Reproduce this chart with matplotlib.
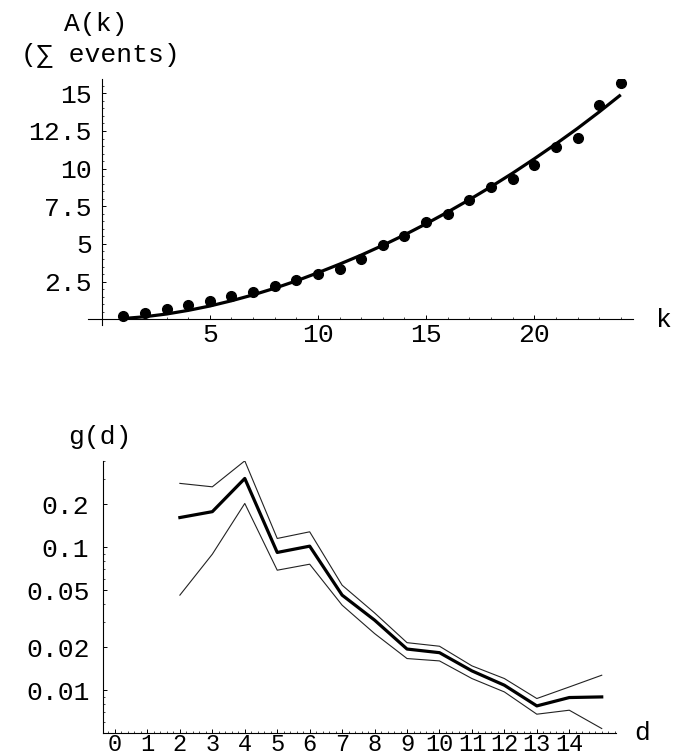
import matplotlib.pyplot as plt
from matplotlib.ticker import FixedLocator, MultipleLocator, NullFormatter

plt.rcParams['font.family'] = ['Liberation Mono', 'DejaVu Sans Mono']
plt.rcParams['font.size'] = 19

# top panel: summed events A(k)
k = list(range(1, 25))
a_k = [0.22, 0.44, 0.70, 0.95, 1.22, 1.53, 1.83, 2.20, 2.63, 2.98, 3.36, 4.01,
       4.93, 5.54, 6.44, 6.99, 7.92, 8.80, 9.34, 10.24, 11.46, 12.06, 14.22, 15.66]
a_fit = [0.05, 0.17, 0.35, 0.59, 0.88, 1.23, 1.62, 2.06, 2.55, 3.09, 3.66, 4.26,
         4.91, 5.60, 6.34, 7.12, 7.94, 8.80, 9.70, 10.65, 11.64, 12.67, 13.76, 14.90]

# bottom panel: g(d) with upper/lower band
d = list(range(2, 16))
g_mid = [0.161, 0.177, 0.302, 0.0918, 0.1016, 0.0462, 0.0309, 0.0194, 0.0183,
         0.01365, 0.01084, 0.00777, 0.00889, 0.00898]
g_hi = [0.279, 0.264, 0.401, 0.115, 0.128, 0.0542, 0.0347, 0.0215, 0.0203,
        0.0148, 0.01207, 0.00875, 0.01054, 0.01273]
g_lo = [0.0462, 0.0893, 0.202, 0.069, 0.076, 0.0393, 0.0249, 0.01665, 0.01603,
        0.01207, 0.00973, 0.0068, 0.00725, 0.0054]

top_yticks = [2.5, 5, 7.5, 10, 12.5, 15]
top_ylabels = ['2.5', '5', '7.5', '10', '12.5', '15']
bot_yticks = [0.01, 0.02, 0.05, 0.1, 0.2]
bot_ylabels = ['0.01', '0.02', '0.05', '0.1', '0.2']
bot_xticks = list(range(0, 15))

fig = plt.figure(figsize=(6.74, 7.56), dpi=100)
W, H = 674, 756


def box(l, t, r, b):
    return [l / W, 1 - b / H, (r - l) / W, (b - t) / H]


# ---- top plot
ax1 = fig.add_axes(box(88.3, 79, 633.3, 325))
ax1.plot(k, a_fit, color='black', lw=2.3, solid_capstyle='butt', zorder=2)
ax1.plot(k, a_k, 'o', color='black', ms=7, zorder=3)
ax1.set_xlim(-0.62, 24.58)
ax1.set_ylim(-0.38, 15.95)
for s in ['top', 'right']:
    ax1.spines[s].set_visible(False)
ax1.spines['left'].set_position(('data', 0))
ax1.spines['bottom'].set_position(('data', 0))
for s in ['left', 'bottom']:
    ax1.spines[s].set_linewidth(0.8)
ax1.set_xticks([5, 10, 15, 20])
ax1.set_xticklabels(['5', '10', '15', '20'])
ax1.set_yticks(top_yticks)
ax1.set_yticklabels(top_ylabels)
ax1.xaxis.set_minor_locator(MultipleLocator(1))
ax1.yaxis.set_minor_locator(MultipleLocator(0.5))
ax1.tick_params(which='major', direction='in', length=3, width=0.7)
ax1.tick_params(which='minor', direction='in', length=1.5, width=0.5)
ax1.tick_params(axis='y', which='major', pad=7)
ax1.tick_params(axis='x', which='major', pad=3)

fig.text(95.8 / W, 1 - 24 / H, 'A(k)', ha='center', va='center')
fig.text(100.8 / W, 1 - 55 / H, '(\u2211 events)', ha='center', va='center')
fig.text(664 / W, 1 - 320 / H, 'k', ha='center', va='center')

# ---- bottom plot
ax2 = fig.add_axes(box(103.3, 461, 616, 733.3))
ax2.plot(d, g_hi, color='#222222', lw=0.8)
ax2.plot(d, g_lo, color='#222222', lw=0.8)
ax2.plot(d, g_mid, color='black', lw=2.3)
ax2.set_yscale('log')
ax2.set_xlim(-0.36, 15.44)
ax2.set_ylim(0.005, 0.4)
for s in ['top', 'right']:
    ax2.spines[s].set_visible(False)
for s in ['left', 'bottom']:
    ax2.spines[s].set_linewidth(0.8)
ax2.yaxis.set_major_locator(FixedLocator(bot_yticks))
ax2.set_yticklabels(bot_ylabels)
ax2.yaxis.set_minor_formatter(NullFormatter())
ax2.set_xticks(bot_xticks)
ax2.set_xticklabels([str(v) for v in bot_xticks], fontsize=17)
ax2.xaxis.set_minor_locator(MultipleLocator(0.2))
ax2.tick_params(which='major', direction='in', length=3, width=0.7)
ax2.tick_params(which='minor', direction='in', length=1.5, width=0.5)
ax2.tick_params(axis='y', which='major', pad=10)
ax2.tick_params(axis='x', which='major', pad=0)

fig.text(100 / W, 1 - 437 / H, 'g(d)', ha='center', va='center')
fig.text(642.5 / W, 1 - 733 / H, 'd', ha='center', va='center')

fig.savefig('out.png', dpi=100)
